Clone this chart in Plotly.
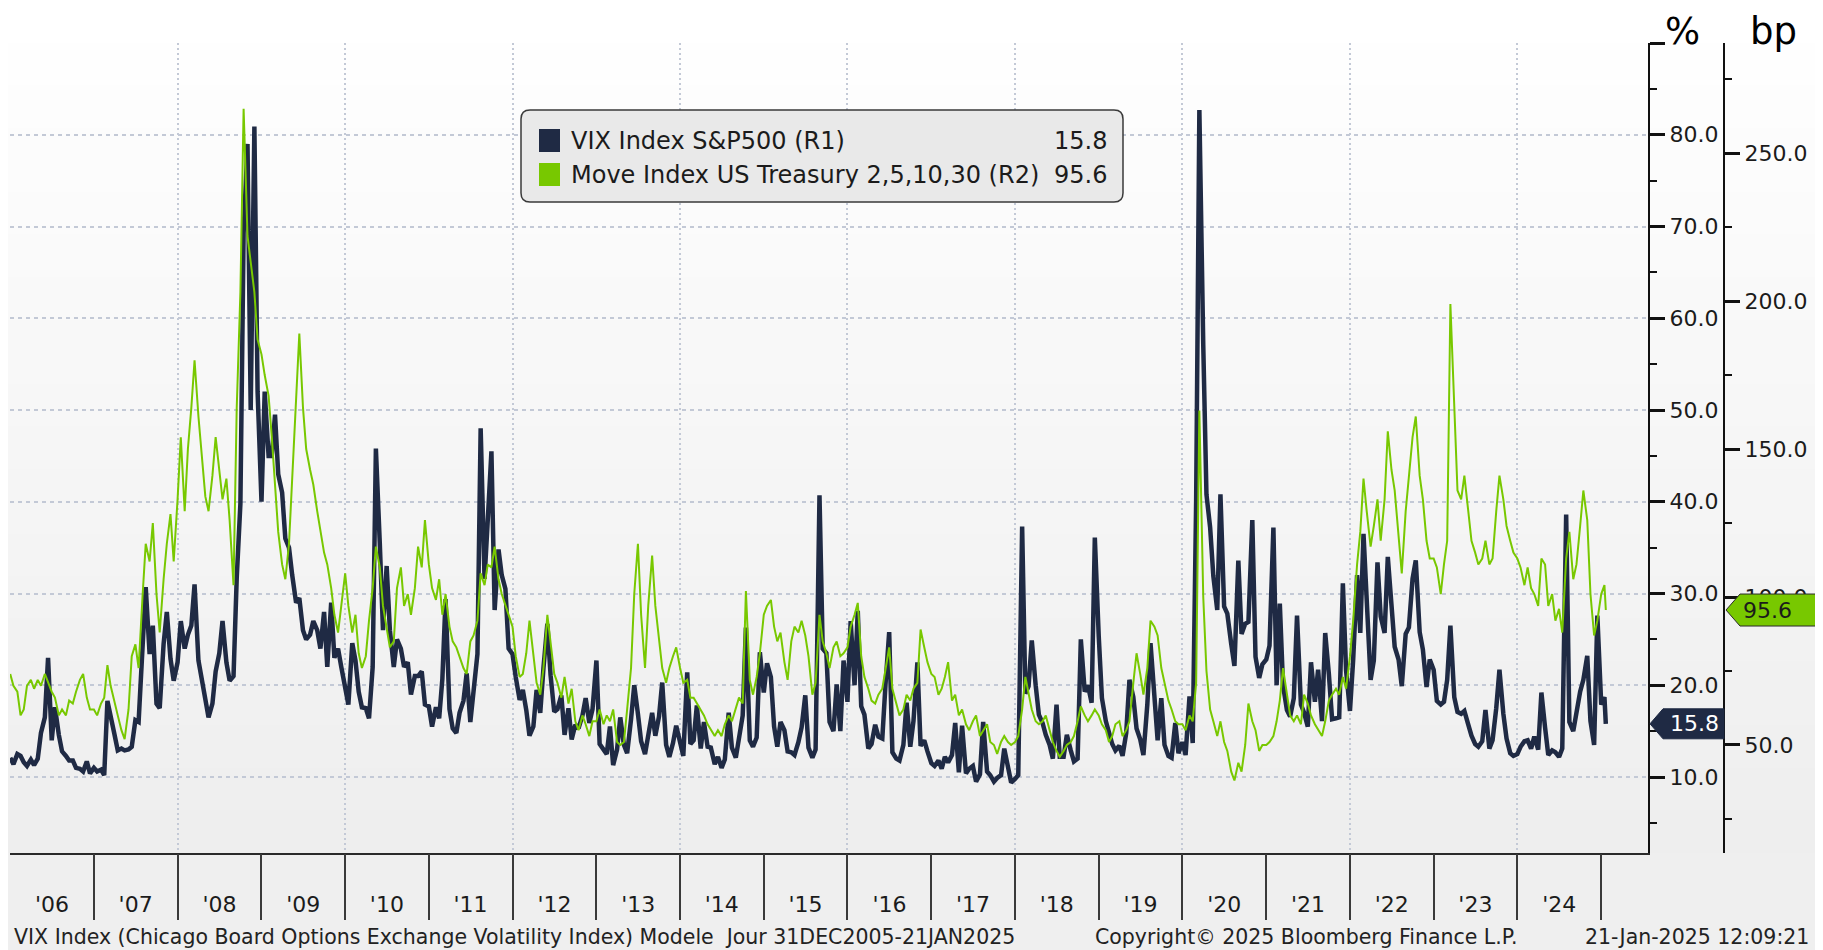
import plotly.graph_objects as go

# ---------------- data (semi-monthly readings: 1st and 15th of each month) ----------------
VIX2006 = [12.1, 11.4, 12.5, 12.3, 11.6, 11.2, 11.9, 11.3, 12.0, 14.8, 16.5, 23.0, 14.0, 17.6, 14.6, 12.8, 12.3, 11.8, 11.8, 11.0, 10.9, 10.6, 11.7, 10.4]
VIX2007 = [11.0, 10.6, 10.8, 10.2, 18.3, 16.8, 14.6, 12.9, 13.1, 12.9, 13.0, 13.3, 16.2, 16.0, 23.5, 30.7, 23.4, 26.5, 18.0, 17.5, 24.5, 28.0, 22.9, 20.5]
VIX2008 = [22.5, 27.0, 24.0, 25.5, 26.5, 31.0, 22.7, 21.0, 18.5, 16.5, 18.0, 21.5, 23.5, 27.0, 22.5, 20.5, 21.0, 31.7, 39.8, 69.3, 79.0, 50.0, 80.9, 52.0]
VIX2009 = [40.0, 52.0, 45.0, 45.0, 49.5, 43.0, 41.0, 36.0, 35.0, 32.0, 29.0, 29.5, 26.0, 25.0, 25.5, 27.0, 26.0, 24.0, 28.0, 22.0, 29.0, 23.0, 24.0, 22.0]
VIX2010 = [20.0, 17.9, 24.6, 22.7, 19.3, 17.6, 17.5, 16.4, 22.0, 45.8, 35.5, 26.0, 33.0, 26.0, 22.0, 25.0, 24.0, 22.0, 22.5, 19.0, 21.0, 21.0, 21.5, 17.9]
VIX2011 = [17.7, 15.5, 17.6, 16.4, 20.7, 29.4, 17.4, 15.3, 14.8, 17.0, 18.3, 21.3, 16.0, 19.5, 23.4, 48.0, 31.6, 38.0, 45.5, 28.2, 34.8, 32.0, 30.5, 24.0]
VIX2012 = [23.4, 20.9, 18.4, 19.5, 17.3, 14.5, 15.5, 19.5, 17.0, 21.9, 26.7, 21.1, 17.1, 17.4, 18.9, 14.6, 17.5, 14.1, 15.7, 15.3, 16.7, 18.6, 15.9, 17.4]
VIX2013 = [22.7, 13.6, 13.0, 12.5, 15.5, 11.3, 13.0, 16.5, 13.5, 12.6, 16.3, 20.0, 16.9, 13.9, 12.5, 14.7, 17.0, 14.5, 16.6, 20.3, 13.5, 12.2, 13.7, 15.6]
VIX2014 = [13.7, 12.3, 21.4, 13.6, 14.0, 17.8, 13.1, 16.0, 13.3, 13.2, 11.4, 12.2, 11.0, 11.9, 17.0, 13.2, 12.1, 14.1, 16.7, 26.3, 14.0, 13.3, 14.3, 23.6]
VIX2015 = [19.2, 22.4, 20.9, 15.5, 13.3, 16.0, 15.1, 12.8, 12.7, 12.4, 13.8, 15.4, 18.9, 13.2, 12.1, 13.0, 40.7, 24.0, 23.5, 16.0, 15.0, 20.1, 15.0, 22.7]
VIX2016 = [18.2, 27.0, 20.0, 28.1, 17.7, 16.8, 13.1, 13.6, 15.7, 14.4, 14.2, 20.1, 25.8, 12.7, 12.0, 11.8, 13.5, 18.1, 13.3, 16.1, 22.5, 13.4, 14.0, 12.8]
VIX2017 = [11.5, 11.2, 11.8, 10.9, 12.2, 11.6, 12.4, 15.9, 10.5, 15.6, 10.4, 10.9, 11.2, 9.5, 10.3, 16.0, 10.6, 10.2, 9.5, 9.9, 10.2, 13.1, 11.3, 9.4]
VIX2018 = [9.8, 10.2, 37.3, 19.1, 19.9, 24.9, 20.0, 16.8, 15.9, 14.6, 13.5, 12.0, 17.9, 12.2, 12.2, 14.6, 12.9, 11.7, 12.0, 25.0, 19.3, 20.0, 18.1, 36.1]
VIX2019 = [25.4, 18.6, 16.1, 14.9, 13.6, 12.9, 13.4, 12.3, 14.8, 20.6, 18.7, 15.3, 14.1, 12.4, 17.9, 24.6, 19.0, 14.0, 18.6, 13.5, 12.3, 12.1, 15.9, 12.6]
VIX2020 = [13.8, 12.4, 18.8, 13.7, 40.1, 82.7, 57.1, 40.8, 37.2, 31.9, 28.2, 40.8, 28.6, 27.8, 24.5, 22.1, 33.6, 25.6, 26.7, 26.9, 38.0, 23.1, 20.8, 22.3]
VIX2021 = [22.8, 24.3, 37.2, 20.0, 28.9, 20.0, 17.3, 16.6, 18.6, 27.6, 17.9, 17.0, 15.5, 22.5, 18.2, 21.7, 16.1, 25.7, 21.2, 16.3, 16.4, 16.5, 31.1, 21.6]
VIX2022 = [17.2, 22.8, 32.0, 25.7, 36.5, 29.8, 20.6, 22.7, 33.4, 27.5, 25.7, 34.0, 28.2, 24.2, 22.8, 19.9, 25.6, 26.3, 31.6, 33.6, 25.8, 23.9, 19.8, 22.8]
VIX2023 = [21.7, 18.3, 17.9, 18.2, 20.6, 26.5, 18.7, 17.1, 16.9, 17.2, 15.7, 14.5, 13.6, 13.3, 13.9, 17.3, 13.1, 14.0, 17.5, 21.7, 16.9, 14.2, 12.6, 12.3]
VIX2024 = [12.5, 13.3, 13.9, 14.0, 13.1, 14.4, 13.0, 19.2, 15.4, 12.4, 12.9, 12.7, 12.2, 13.1, 38.6, 16.0, 15.0, 17.1, 19.3, 20.6, 23.2, 16.1, 13.5, 27.6]
VIX2025 = [17.9, 18.7, 15.8]

MOVE2006 = [74, 70, 68, 60, 62, 70, 72, 69, 72, 70, 74, 71, 68, 66, 60, 62, 60, 65, 64, 68, 72, 74, 66, 62]
MOVE2007 = [62, 60, 64, 66, 77, 70, 64, 60, 55, 52, 62, 80, 84, 76, 100, 118, 112, 125, 101, 88, 106, 118, 128, 112]
MOVE2008 = [133, 154, 129, 150, 164, 180, 161, 149, 134, 129, 141, 154, 143, 133, 140, 126, 104, 164, 203, 265, 222, 214, 203, 187]
MOVE2009 = [182, 175, 168, 154, 138, 122, 111, 106, 118, 141, 166, 189, 164, 150, 143, 138, 129, 122, 115, 111, 103, 94, 88, 97]
MOVE2010 = [108, 97, 88, 94, 81, 76, 80, 92, 103, 117, 110, 97, 90, 83, 85, 103, 110, 97, 101, 94, 103, 117, 110, 126]
MOVE2011 = [111, 103, 99, 106, 94, 101, 90, 85, 83, 80, 76, 74, 85, 87, 92, 108, 104, 111, 110, 117, 106, 101, 97, 94]
MOVE2012 = [90, 80, 73, 74, 81, 92, 80, 71, 67, 76, 94, 85, 74, 71, 66, 73, 64, 69, 58, 55, 60, 57, 53, 58]
MOVE2013 = [58, 62, 57, 60, 58, 62, 51, 50, 51, 62, 76, 101, 118, 94, 76, 97, 114, 97, 85, 76, 71, 76, 80, 83]
MOVE2014 = [76, 71, 72, 66, 66, 64, 62, 60, 57, 55, 53, 55, 53, 57, 60, 58, 62, 66, 64, 102, 72, 67, 73, 81]
MOVE2015 = [94, 97, 99, 90, 85, 88, 78, 72, 85, 90, 88, 92, 87, 80, 67, 71, 94, 85, 81, 76, 83, 85, 80, 81]
MOVE2016 = [83, 90, 94, 98, 80, 73, 69, 65, 64, 67, 69, 76, 83, 69, 64, 60, 62, 67, 65, 69, 71, 89, 83, 78]
MOVE2017 = [74, 73, 67, 69, 73, 78, 65, 67, 60, 62, 57, 55, 58, 60, 53, 55, 57, 51, 50, 47, 51, 53, 51, 50]
MOVE2018 = [51, 53, 62, 73, 67, 62, 58, 57, 58, 60, 55, 51, 48, 46, 48, 50, 51, 53, 58, 63, 60, 58, 60, 62]
MOVE2019 = [60, 57, 55, 51, 53, 57, 58, 53, 55, 58, 71, 81, 74, 67, 76, 92, 90, 87, 76, 71, 65, 62, 58, 57]
MOVE2020 = [57, 55, 60, 58, 71, 163, 100, 75, 62, 58, 53, 58, 51, 48, 41, 38, 44, 41, 50, 64, 58, 55, 48, 50]
MOVE2021 = [50, 51, 53, 58, 65, 76, 67, 60, 58, 60, 57, 67, 64, 60, 57, 55, 53, 58, 65, 67, 69, 67, 73, 69]
MOVE2022 = [80, 92, 111, 122, 140, 129, 117, 124, 133, 119, 133, 156, 143, 136, 120, 108, 129, 141, 154, 161, 141, 133, 119, 113]
MOVE2023 = [113, 110, 101, 111, 119, 199, 164, 136, 133, 141, 129, 119, 115, 111, 113, 119, 111, 113, 129, 141, 133, 124, 119, 115]
MOVE2024 = [113, 110, 104, 110, 103, 101, 97, 113, 111, 97, 101, 92, 96, 88, 113, 122, 106, 111, 124, 136, 126, 101, 87, 92]
MOVE2025 = [101, 104, 95.6]

YEARS = list(range(2006, 2025))
VIX_BY_YEAR = [VIX2006, VIX2007, VIX2008, VIX2009, VIX2010, VIX2011, VIX2012, VIX2013, VIX2014, VIX2015,
               VIX2016, VIX2017, VIX2018, VIX2019, VIX2020, VIX2021, VIX2022, VIX2023, VIX2024]
MOVE_BY_YEAR = [MOVE2006, MOVE2007, MOVE2008, MOVE2009, MOVE2010, MOVE2011, MOVE2012, MOVE2013, MOVE2014, MOVE2015,
                MOVE2016, MOVE2017, MOVE2018, MOVE2019, MOVE2020, MOVE2021, MOVE2022, MOVE2023, MOVE2024]
LAST_DATES = ["2025-01-01", "2025-01-15", "2025-01-21"]

YEAR_LABELS = ["'06", "'07", "'08", "'09", "'10", "'11", "'12", "'13", "'14", "'15",
               "'16", "'17", "'18", "'19", "'20", "'21", "'22", "'23", "'24"]
LEFT_TICKS = [10, 20, 30, 40, 50, 60, 70, 80, 90]
RIGHT_TICKS = [50, 100, 150, 200, 250]

DATES, VIX, MOVE = [], [], []
for yr, vrow, mrow in zip(YEARS, VIX_BY_YEAR, MOVE_BY_YEAR):
    assert len(vrow) == 24 and len(mrow) == 24, yr
    for i in range(24):
        DATES.append(f"{yr}-{i // 2 + 1:02d}-{1 if i % 2 == 0 else 15:02d}")
    VIX += vrow
    MOVE += mrow
DATES += LAST_DATES
VIX += VIX2025
MOVE += MOVE2025

# ---------------- layout geometry (reference pixel coords, page body offset 8px) ----------------
OFF = 8
W, H = 1823 - OFF, 950 - OFF
X0, X1 = 10, 1648
YT, YB = 43, 853
RAX = 1724


def px(x):
    return (x - OFF) / W


def py(y):
    return 1 - (y - OFF) / H


FONT = "DejaVu Sans, sans-serif"
NAVY = "#1f2a44"
GREEN = "#78c800"
TXT = "#1b1b1b"
GRID = "#c3c9d6"
XRANGE = ["2005-12-31", "2025-07-24"]
YRANGE = [1.72, 90.0]
Y2RANGE = [13.5, 287.2]

fig = go.Figure()
fig.add_trace(go.Scatter(x=DATES, y=VIX, mode="lines", name="VIX Index S&P500 (R1)",
                         line=dict(color=NAVY, width=4.5), xaxis="x", yaxis="y",
                         showlegend=False))
fig.add_trace(go.Scatter(x=DATES, y=MOVE, mode="lines", name="Move Index US Treasury 2,5,10,30 (R2)",
                         line=dict(color=GREEN, width=2), xaxis="x", yaxis="y2",
                         showlegend=False))
for ax in ("x2", "x3"):
    fig.add_trace(go.Scatter(x=[DATES[0], DATES[-1]], y=[None, None], mode="lines",
                             xaxis=ax, yaxis="y", showlegend=False, hoverinfo="skip"))

shapes = []
# background gradient
NB = 40
for i in range(NB):
    t = i / (NB - 1)
    c = int(round(255 - t * (255 - 238)))
    y0 = YB * i / NB
    y1 = YB * (i + 1) / NB + 1
    shapes.append(dict(type="rect", xref="paper", yref="paper", x0=0, x1=1,
                       y0=max(py(y1), 0), y1=min(py(y0), 1),
                       fillcolor=f"rgb({c},{c},{c})", line=dict(width=0), layer="below"))
shapes.append(dict(type="rect", xref="paper", yref="paper", x0=0, x1=1, y0=0, y1=py(YB),
                   fillcolor="#efefef", line=dict(width=0), layer="below"))

# legend box
L, R, T, B, rr = 521, 1123, 110, 202, 9
rx, ry = rr / W, rr / H
path = (f"M {px(L)+rx},{py(T)} L {px(R)-rx},{py(T)} Q {px(R)},{py(T)} {px(R)},{py(T)-ry} "
        f"L {px(R)},{py(B)+ry} Q {px(R)},{py(B)} {px(R)-rx},{py(B)} "
        f"L {px(L)+rx},{py(B)} Q {px(L)},{py(B)} {px(L)},{py(B)+ry} "
        f"L {px(L)},{py(T)-ry} Q {px(L)},{py(T)} {px(L)+rx},{py(T)} Z")
shapes.append(dict(type="path", xref="paper", yref="paper", path=path,
                   fillcolor="#e9e9e9", line=dict(color="#3a3a3a", width=1.5)))
shapes.append(dict(type="rect", xref="paper", yref="paper", x0=px(539), x1=px(560), y0=py(152), y1=py(129),
                   fillcolor=NAVY, line=dict(width=0)))
shapes.append(dict(type="rect", xref="paper", yref="paper", x0=px(539), x1=px(560), y0=py(186), y1=py(163),
                   fillcolor=GREEN, line=dict(width=0)))

# last-value tags
v = VIX[-1]
h = 15 * (YRANGE[1] - YRANGE[0]) / (YB - YT)
shapes.append(dict(type="path", xref="paper", yref="y",
                   path=f"M {px(1650)},{v} L {px(1663)},{v+h} L {px(RAX)},{v+h} L {px(RAX)},{v-h} L {px(1663)},{v-h} Z",
                   fillcolor=NAVY, line=dict(color=NAVY, width=1)))
m = MOVE[-1]
h2 = 16 * (Y2RANGE[1] - Y2RANGE[0]) / (YB - YT)
shapes.append(dict(type="path", xref="paper", yref="y2",
                   path=f"M {px(RAX+2)},{m} L {px(RAX+16)},{m+h2} L {px(1821)},{m+h2} L {px(1821)},{m-h2} L {px(RAX+16)},{m-h2} Z",
                   fillcolor=GREEN, line=dict(color="#2a2a2a", width=1)))

annotations = [
    dict(text="VIX Index S&amp;P500 (R1)", x=px(569), y=py(141), xanchor="left", yanchor="middle"),
    dict(text="Move Index US Treasury 2,5,10,30 (R2)", x=px(569), y=py(175), xanchor="left", yanchor="middle"),
    dict(text=f"{VIX[-1]:.1f}", x=px(1109), y=py(141), xanchor="right", yanchor="middle"),
    dict(text=f"{MOVE[-1]:.1f}", x=px(1109), y=py(175), xanchor="right", yanchor="middle"),
]
for a in annotations:
    a.update(xref="paper", yref="paper", showarrow=False, font=dict(family=FONT, size=24, color=TXT))

annotations += [
    dict(text=f"{VIX[-1]:.1f}", x=px(1694), y=v, xref="paper", yref="y", showarrow=False,
         xanchor="center", yanchor="middle", font=dict(family=FONT, size=22, color="#ffffff")),
    dict(text=f"{MOVE[-1]:.1f}", x=px(1767), y=m, xref="paper", yref="y2", showarrow=False,
         xanchor="center", yanchor="middle", font=dict(family=FONT, size=22, color=TXT)),
    dict(text="%", x=px(1682), y=1, xref="paper", yref="paper", showarrow=False,
         xanchor="center", yanchor="top", font=dict(family=FONT, size=37, color="#000")),
    dict(text="bp", x=px(1773), y=1, xref="paper", yref="paper", showarrow=False,
         xanchor="center", yanchor="top", font=dict(family=FONT, size=37, color="#000")),
]
FOOT = dict(family=FONT, size=20.5, color="#222222")
annotations += [
    dict(text="VIX Index (Chicago Board Options Exchange Volatility Index) Modele  Jour 31DEC2005-21JAN2025",
         x=px(12), y=py(937), xanchor="left", yanchor="middle"),
    dict(text="Copyright© 2025 Bloomberg Finance L.P.", x=px(1093), y=py(937), xanchor="left", yanchor="middle"),
    dict(text="21-Jan-2025 12:09:21", x=px(1811), y=py(937), xanchor="right", yanchor="middle"),
]
for a in annotations[-3:]:
    a.update(xref="paper", yref="paper", showarrow=False, font=FOOT)

XDOM = [px(X0), px(X1)]
YDOM = [py(YB), py(YT)]
TICKFONT = dict(family=FONT, size=22, color=TXT)

fig.update_layout(
    width=W, height=H, autosize=False, template="none",
    margin=dict(l=0, r=0, t=0, b=0, pad=0),
    paper_bgcolor="#ffffff", plot_bgcolor="rgba(0,0,0,0)",
    showlegend=False, shapes=shapes, annotations=annotations,
    xaxis=dict(type="date", domain=XDOM, range=XRANGE, anchor="y",
               tickmode="array", tickvals=[f"{y}-01-01" for y in YEARS[2::2]],
               showticklabels=False, ticks="", showgrid=True, gridcolor=GRID, gridwidth=1.5,
               griddash="2px,3px", showline=True, linecolor="#2a2a2a", linewidth=2,
               zeroline=False, automargin=False),
    xaxis2=dict(type="date", domain=XDOM, range=XRANGE, anchor="y", overlaying="x",
                tickmode="array", tickvals=[f"{y}-01-01" for y in YEARS[1:]] + ["2025-01-01"],
                showticklabels=False, ticks="outside", ticklen=66, tickwidth=1.5, tickcolor="#3a3a3a",
                showgrid=False, showline=False, zeroline=False, automargin=False),
    xaxis3=dict(type="date", domain=XDOM, range=XRANGE, anchor="y", overlaying="x",
                tickmode="array", tickvals=[f"{y}-07-02" for y in YEARS], ticktext=YEAR_LABELS,
                ticks="outside", ticklen=32, tickcolor="rgba(0,0,0,0)", tickfont=TICKFONT,
                showgrid=False, showline=False, zeroline=False, automargin=False),
    yaxis=dict(domain=YDOM, range=YRANGE, side="right", anchor="x",
               tickmode="array", tickvals=LEFT_TICKS,
               ticktext=[f"{t:.1f}" if t < 90 else "" for t in LEFT_TICKS],
               ticks="outside", ticklen=15, tickwidth=3, tickcolor="#111111", tickfont=TICKFONT,
               minor=dict(tickmode="array", tickvals=[t - 5 for t in LEFT_TICKS],
                          ticks="outside", ticklen=7, tickwidth=1.5, tickcolor="#111111", showgrid=False),
               showline=True, linecolor="#111111", linewidth=2,
               showgrid=True, gridcolor=GRID, gridwidth=1.5, griddash="4px,4px",
               zeroline=False, automargin=False),
    yaxis2=dict(range=Y2RANGE, side="right", overlaying="y", anchor="free", position=px(RAX),
                tickmode="array", tickvals=RIGHT_TICKS, ticktext=[f"{t:.1f}" for t in RIGHT_TICKS],
                ticks="outside", ticklen=15, tickwidth=3, tickcolor="#111111", tickfont=TICKFONT,
                minor=dict(tickmode="array", tickvals=[t - 25 for t in RIGHT_TICKS] + [275],
                           ticks="outside", ticklen=7, tickwidth=1.5, tickcolor="#111111", showgrid=False),
                showline=True, linecolor="#111111", linewidth=2, showgrid=False,
                zeroline=False, automargin=False),
)

fig.write_html("out.html")
